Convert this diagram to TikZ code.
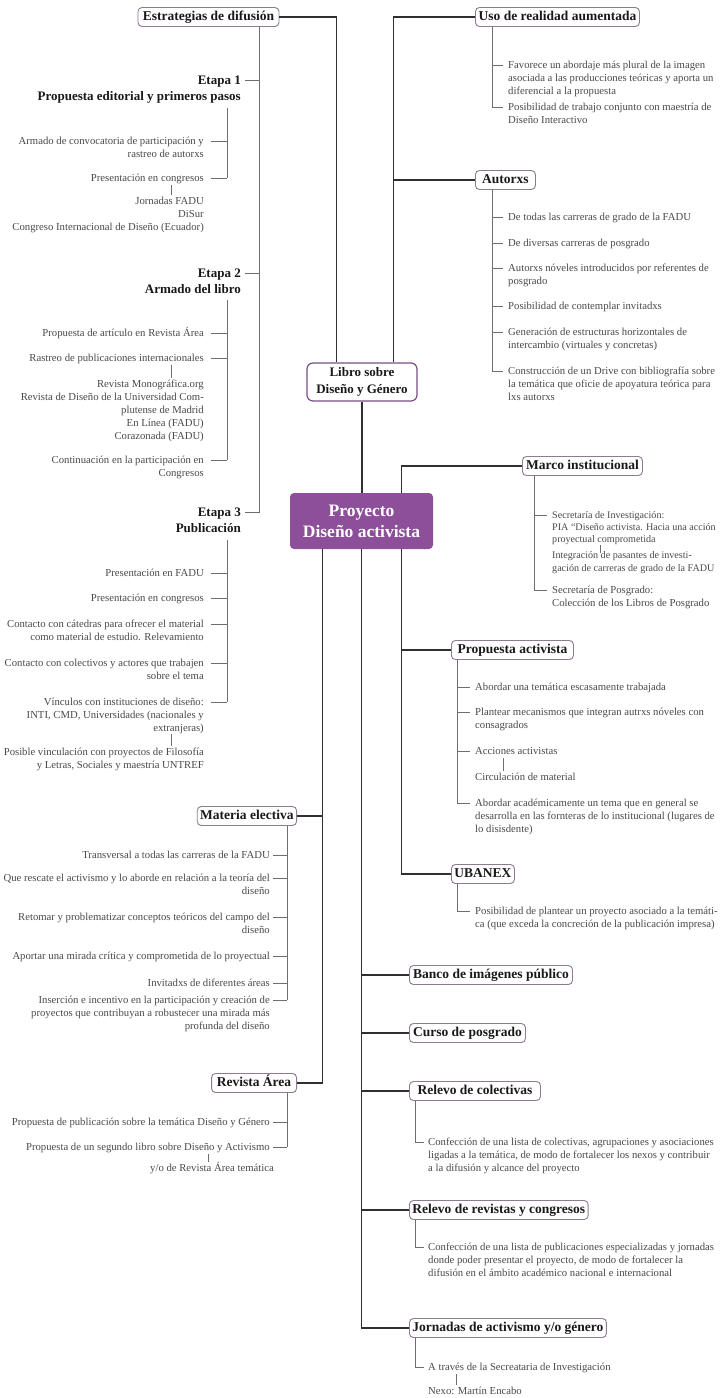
\documentclass[tikz,border=0pt]{standalone}
\usepackage{fontspec}
\setmainfont{Liberation Serif}
\definecolor{boxline}{HTML}{8C7B91}
\definecolor{libroline}{HTML}{7A4E86}
\definecolor{proyfill}{HTML}{8D4E9A}
\definecolor{maincol}{HTML}{303030}
\definecolor{subcol}{HTML}{6E6E6E}
\definecolor{itemtxt}{HTML}{4A4A4A}
\newcommand\dashL[3][7pt]{\coordinate (#2c) at ([xshift=#1,yshift=-6pt]#2.north east); \draw[subln] (#2c) -- (#2c -| #3);}
\newcommand\dashR[3][5pt]{\coordinate (#2c) at ([xshift=-#1,yshift=-6pt]#2.north west); \draw[subln] (#2c) -- (#2c -| #3);}
\newcommand\dashH[2]{\coordinate (#1c) at ([xshift=4pt,yshift=-7pt]#1.north east); \draw[subln] (#1c) -- (#1c -| #2);}
\newcommand\linkV[3]{\draw[subln] (#1.south -| #3) -- (#2.north -| #3);}
\begin{document}
\begin{tikzpicture}[x=1pt,y=-1pt,
  hbox/.style={draw=boxline, line width=0.9pt, rounded corners=4pt, fill=white,
    font=\fontsize{13.5}{15}\selectfont\bfseries, text=black!90, inner xsep=3pt, inner ysep=0pt,
    text height=9.8pt, text depth=3pt, minimum height=19pt},
  L/.style={anchor=north east, align=right, inner sep=0pt, font=\fontsize{10.7}{13}\selectfont, text=itemtxt},
  R/.style={anchor=north west, align=left, inner sep=0pt, font=\fontsize{10.7}{13}\selectfont, text=itemtxt},
  HL/.style={anchor=north east, align=right, inner sep=0pt, font=\fontsize{13}{16}\selectfont\bfseries, text=black!90},
  mainln/.style={draw=maincol, line width=1.1pt},
  subln/.style={draw=subcol, line width=0.9pt},
]
\useasboundingbox (0,0) rectangle (722,1398);
\fill[white] (0,0) rectangle (722,1398);

% ---------- boxes ----------
\node[hbox, minimum width=141pt] (estr) at (208.5,17) {Estrategias de difusión};
\node[hbox, anchor=west, minimum width=164pt] (uso) at (475,17) {Uso de realidad aumentada};
\node[hbox, anchor=west, minimum width=60pt] (autorxs) at (475,180) {Autorxs};
\node[draw=libroline, line width=1.2pt, rounded corners=6pt, fill=white, align=center,
  font=\fontsize{13}{17}\selectfont\bfseries, text=black!90, minimum width=110pt, minimum height=38pt, inner sep=0pt]
  (libro) at (362,382) {Libro sobre\\Diseño y Género};
\node[fill=proyfill, rounded corners=4pt, align=center, text=white, font=\fontsize{17.5}{21}\selectfont\bfseries,
  minimum width=143pt, minimum height=56pt, inner sep=0pt] (proy) at (361.5,521) {Proyecto\\Diseño activista};
\node[hbox, anchor=west, minimum width=120pt] (marco) at (522,466) {Marco institucional};
\node[hbox, anchor=west, minimum width=122pt] (propact) at (451,650) {Propuesta activista};
\node[hbox, anchor=west, minimum width=62pt] (ubanex) at (451,874) {UBANEX};
\node[hbox, anchor=east, minimum width=98pt] (materia) at (297,816) {Materia electiva};
\node[hbox, anchor=east, minimum width=85pt] (revista) at (297,1083) {Revista Área};
\node[hbox, anchor=west, minimum width=163pt] (banco) at (409,975) {Banco de imágenes público};
\node[hbox, anchor=west, minimum width=116pt] (curso) at (409,1033) {Curso de posgrado};
\node[hbox, anchor=west, minimum width=131pt] (relcol) at (409,1091) {Relevo de colectivas};
\node[hbox, anchor=west, minimum width=177pt] (relrev) at (409,1210) {Relevo de revistas y congresos};
\node[hbox, anchor=west, minimum width=193pt] (jorn) at (409,1328) {Jornadas de activismo y/o género};

% ---------- main connectors ----------
\draw[mainln] (estr.east) -| ([xshift=30pt]libro.north west);
\draw[mainln] (uso.west) -| ([xshift=-24pt]libro.north east);
\coordinate (uT) at ([xshift=-24pt]libro.north east);
\draw[mainln] (autorxs.west) -- (autorxs.west -| uT);
\draw[mainln] (libro.south) -- (libro.south |- proy.north);
\draw[mainln] ([xshift=-32pt]proy.north east) |- (marco.west);
\coordinate (pA) at ([xshift=33pt]proy.south west);
\coordinate (pB) at (proy.south);
\coordinate (pC) at ([xshift=-32pt]proy.south east);
\draw[mainln] (pA) |- (revista.east);
\draw[mainln] (materia.east) -- (materia.east -| pA);
\draw[mainln] (pB) |- (jorn.west);
\foreach \bb in {banco,curso,relcol,relrev} \draw[mainln] (\bb.west) -- (\bb.west -| pB);
\draw[mainln] (pC) |- (ubanex.west);
\draw[mainln] (propact.west) -- (propact.west -| pC);

% ---------- Estrategias ----------
\node[HL] (et1) at (241,73) {\strut Etapa 1\\Propuesta editorial y primeros pasos};
\node[HL] (et2) at (241,266) {\strut Etapa 2\\Armado del libro};
\node[HL] (et3) at (241,505) {\strut Etapa 3\\Publicación};
\coordinate (estT) at ([xshift=-20pt]estr.south east);
\dashH{et1}{estT}
\dashH{et2}{estT}
\coordinate (et3c) at ([xshift=4pt,yshift=-7pt]et3.north east);
\draw[subln] (estT) |- (et3c);

\coordinate (tA) at (227,0);
\coordinate (xa) at (171,0);
% Etapa 1
\node[L] (a1) at (204,135) {\strut Armado de convocatoria de participación y\\rastreo de autorxs};
\node[L] (a2) at (204,172) {\strut Presentación en congresos};
\node[L] (a3) at (204,195) {\strut Jornadas FADU\\DiSur\\Congreso Internacional de Diseño (Ecuador)};
\dashL{a1}{tA} \dashL{a2}{tA}
\coordinate (e1T) at (227,108);
\draw[subln] (e1T) -- (a2c -| tA);
\linkV{a2}{a3}{xa}
% Etapa 2
\node[L] (b1) at (204,327) {\strut Propuesta de artículo en Revista Área};
\node[L] (b2) at (204,352) {\strut Rastreo de publicaciones internacionales};
\node[L] (b3) at (204,378) {\strut Revista Monográfica.org\\Revista de Diseño de la Universidad Com-\\plutense de Madrid\\En Línea (FADU)\\Corazonada (FADU)};
\node[L] (b4) at (204,454) {\strut Continuación en la participación en\\Congresos};
\dashL{b1}{tA} \dashL{b2}{tA} \dashL{b4}{tA}
\coordinate (e2T) at (227,300);
\draw[subln] (e2T) -- (b4c -| tA);
\linkV{b2}{b3}{xa}
% Etapa 3
\node[L] (c1) at (204,567) {\strut Presentación en FADU};
\node[L] (c2) at (204,592) {\strut Presentación en congresos};
\node[L] (c3) at (204,618) {\strut Contacto con cátedras para ofrecer el material\\como material de estudio. Relevamiento};
\node[L] (c4) at (204,657) {\strut Contacto con colectivos y actores que trabajen\\sobre el tema};
\node[L] (c5) at (204,696) {\strut Vínculos con instituciones de diseño:\\INTI, CMD, Universidades (nacionales y\\extranjeras)};
\node[L] (c6) at (204,746) {\strut Posible vinculación con proyectos de Filosofía\\y Letras, Sociales y maestría UNTREF};
\dashL{c1}{tA} \dashL{c2}{tA} \dashL{c3}{tA} \dashL{c4}{tA} \dashL{c5}{tA}
\coordinate (e3T) at (227,540);
\draw[subln] (e3T) -- (c5c -| tA);
\linkV{c5}{c6}{xa}

% ---------- Materia electiva ----------
\coordinate (matT) at ([xshift=-10pt]materia.south east);
\node[L] (m1) at (270,849) {\strut Transversal a todas las carreras de la FADU};
\node[L] (m2) at (270,872) {\strut Que rescate el activismo y lo aborde en relación a la teoría del\\diseño};
\node[L] (m3) at (270,911) {\strut Retomar y problematizar conceptos teóricos del campo del\\diseño};
\node[L] (m4) at (270,950) {\strut Aportar una mirada crítica y comprometida de lo proyectual};
\node[L] (m5) at (270,977) {\strut Invitadxs de diferentes áreas};
\node[L] (m6) at (270,994) {\strut Inserción e incentivo en la participación y creación de\\proyectos que contribuyan a robustecer una mirada más\\profunda del diseño};
\dashL[3pt]{m1}{matT} \dashL[3pt]{m2}{matT} \dashL[3pt]{m3}{matT}
\dashL[3pt]{m4}{matT} \dashL[3pt]{m5}{matT} \dashL[3pt]{m6}{matT}
\draw[subln] (matT) -- (m6c -| matT);

% ---------- Revista Área ----------
\coordinate (revT) at ([xshift=-10pt]revista.south east);
\node[L] (r1) at (270,1116) {\strut Propuesta de publicación sobre la temática Diseño y Género};
\node[L] (r2) at (270,1141) {\strut Propuesta de un segundo libro sobre Diseño y Activismo};
\node[L] (r3) at (274,1162) {\strut y/o de Revista Área temática};
\dashL[3pt]{r1}{revT} \dashL[3pt]{r2}{revT}
\draw[subln] (revT) -- (r2c -| revT);
\coordinate (xr) at (208,0);
\linkV{r2}{r3}{xr}

% ---------- Uso de realidad aumentada ----------
\coordinate (usoT) at ([xshift=17pt]uso.south west);
\node[R] (u1) at (508,59) {\strut Favorece un abordaje más plural de la imagen\\asociada a las producciones teóricas y aporta un\\diferencial a la propuesta};
\node[R] (u2) at (508,101) {\strut Posibilidad de trabajo conjunto con maestría de\\Diseño Interactivo};
\dashR{u1}{usoT} \dashR{u2}{usoT}
\draw[subln] (usoT) -- (u2c -| usoT);

% ---------- Autorxs ----------
\coordinate (autT) at ([xshift=17pt]autorxs.south west);
\node[R] (au1) at (508,211) {\strut De todas las carreras de grado de la FADU};
\node[R] (au2) at (508,237) {\strut De diversas carreras de posgrado};
\node[R] (au3) at (508,262) {\strut Autorxs nóveles introducidos por referentes de\\posgrado};
\node[R] (au4) at (508,300) {\strut Posibilidad de contemplar invitadxs};
\node[R] (au5) at (508,326) {\strut Generación de estructuras horizontales de\\intercambio (virtuales y concretas)};
\node[R] (au6) at (508,365) {\strut Construcción de un Drive con bibliografía sobre\\la temática que oficie de apoyatura teórica para\\lxs autorxs};
\dashR{au1}{autT} \dashR{au2}{autT} \dashR{au3}{autT}
\dashR{au4}{autT} \dashR{au5}{autT} \dashR{au6}{autT}
\draw[subln] (autT) -- (au6c -| autT);

% ---------- Marco institucional ----------
\coordinate (marT) at ([xshift=12pt]marco.south west);
\node[R, font=\fontsize{10.1}{12}\selectfont] (k1) at (552,509.6) {\strut Secretaría de Investigación:\\PIA “Diseño activista. Hacia una acción\\proyectual comprometida};
\node[R, font=\fontsize{10.1}{13}\selectfont] (k2) at (552,549) {\strut Integración de pasantes de investi-\\gación de carreras de grado de la FADU};
\node[R] (k3) at (552,584) {\strut Secretaría de Posgrado:\\Colección de los Libros de Posgrado};
\dashR{k1}{marT} \dashR{k3}{marT}
\draw[subln] (marT) -- (k3c -| marT);
\coordinate (xk) at (600,0);
\path (k2.north -| xk) ++(0,4) coordinate (k2top);
\draw[subln] (k1.south -| xk) -- (k2top);

% ---------- Propuesta activista ----------
\coordinate (paT) at ([xshift=6pt]propact.south west);
\node[R] (p1) at (475,681) {\strut Abordar una temática escasamente trabajada};
\node[R] (p2) at (475,706) {\strut Plantear mecanismos que integran autrxs nóveles con\\consagrados};
\node[R] (p3) at (475,745) {\strut Acciones activistas};
\node[R] (p4) at (475,771) {\strut Circulación de material};
\node[R] (p5) at (475,797) {\strut Abordar académicamente un tema que en general se\\desarrolla en las fornteras de lo institucional (lugares de\\lo disisdente)};
\dashR{p1}{paT} \dashR{p2}{paT} \dashR{p3}{paT} \dashR{p5}{paT}
\draw[subln] (paT) -- (p5c -| paT);
\coordinate (xp) at (503,0);
\linkV{p3}{p4}{xp}

% ---------- UBANEX ----------
\coordinate (ubT) at ([xshift=6pt]ubanex.south west);
\node[R] (ub1) at (475,905) {\strut Posibilidad de plantear un proyecto asociado a la temáti-\\ca (que exceda la concreción de la publicación impresa)};
\dashR{ub1}{ubT}
\draw[subln] (ubT) -- (ub1c -| ubT);

% ---------- Relevo de colectivas ----------
\coordinate (rcT) at ([xshift=6pt]relcol.south west);
\node[R] (rc1) at (428,1136) {\strut Confección de una lista de colectivas, agrupaciones y asociaciones\\ligadas a la temática, de modo de fortalecer los nexos y contribuir\\a la difusión y alcance del proyecto};
\dashR[4pt]{rc1}{rcT}
\draw[subln] (rcT) -- (rc1c -| rcT);

% ---------- Relevo de revistas ----------
\coordinate (rrT) at ([xshift=6pt]relrev.south west);
\node[R] (rr1) at (428,1241) {\strut Confección de una lista de publicaciones especializadas y jornadas\\donde poder presentar el proyecto, de modo de fortalecer la\\difusión en el ámbito académico nacional e internacional};
\dashR[4pt]{rr1}{rrT}
\draw[subln] (rrT) -- (rr1c -| rrT);

% ---------- Jornadas ----------
\coordinate (jT) at ([xshift=6pt]jorn.south west);
\node[R] (j1) at (428,1361) {\strut A través de la Secreataria de Investigación};
\node[R] (j2) at (428,1385) {\strut Nexo: Martín Encabo};
\dashR[4pt]{j1}{jT}
\draw[subln] (jT) -- (j1c -| jT);
\coordinate (xj) at (456,0);
\linkV{j1}{j2}{xj}
\end{tikzpicture}
\end{document}
